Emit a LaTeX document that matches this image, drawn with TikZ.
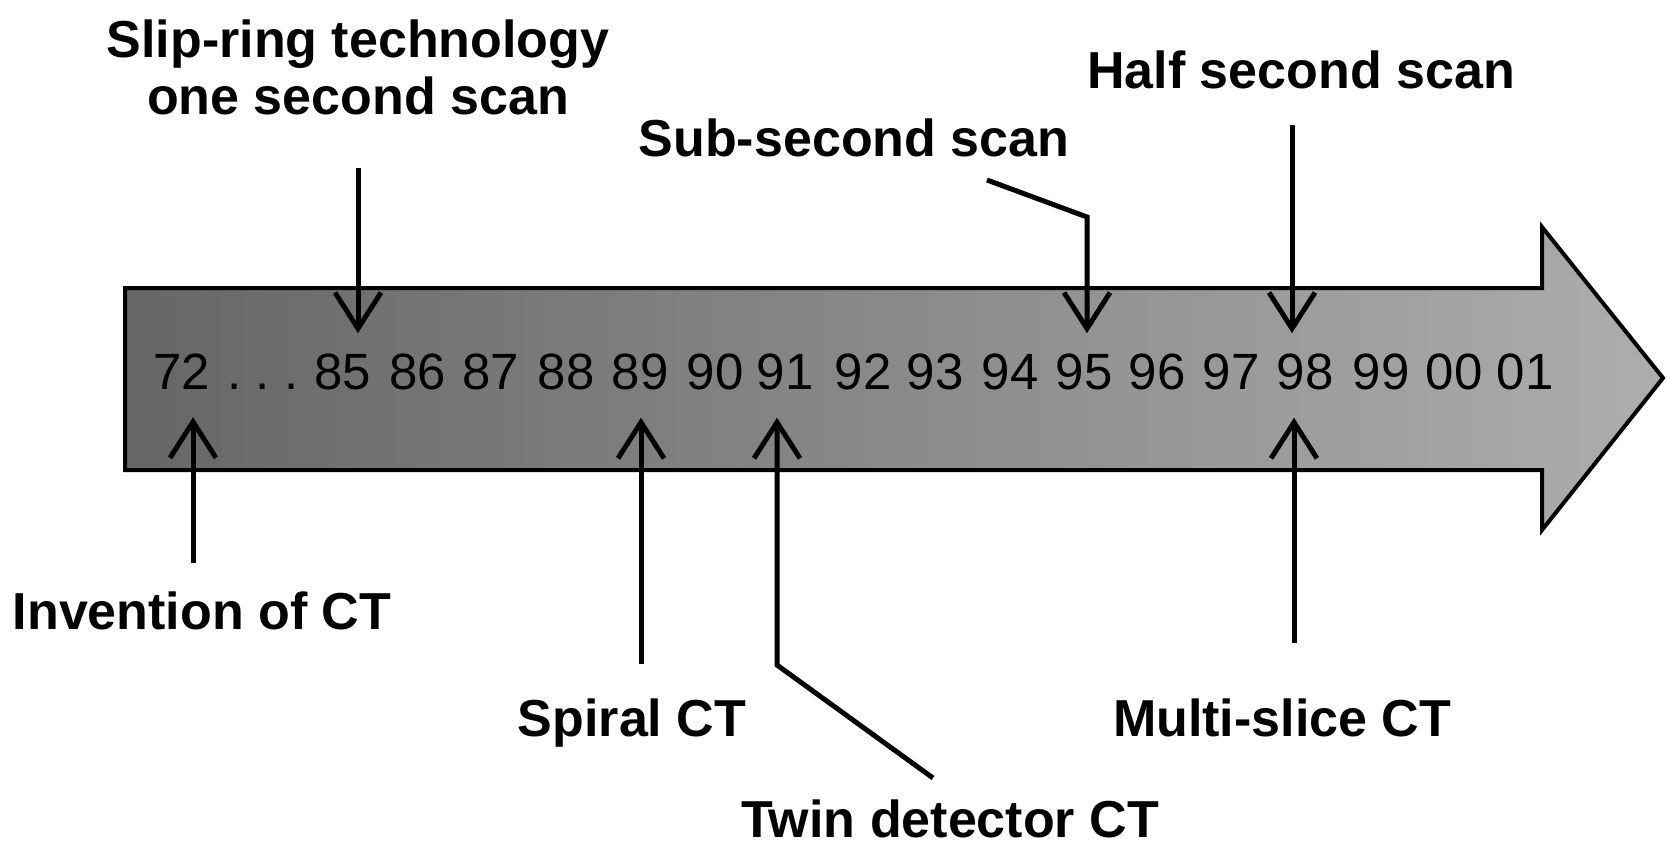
\documentclass[tikz,border=0pt]{standalone}
\usepackage{fontspec}
\setmainfont{Liberation Sans}
\usetikzlibrary{arrows.meta,calc}
\definecolor{bandL}{gray}{0.40}
\definecolor{bandR}{gray}{0.68}
\begin{document}
\begin{tikzpicture}[x=1pt,y=-1pt,
  lbl/.style={font=\fontsize{52}{57}\selectfont\bfseries, inner sep=0pt, anchor=base, align=center},
  yr/.style={font=\fontsize{51}{56}\selectfont, inner sep=0pt, anchor=base},
  ptr/.style={line width=5pt, -{Straight Barb[length=36pt,width=46pt]}, line join=miter},
  band/.style={line width=4pt, line join=miter, left color=bandL, right color=bandR},
]
\useasboundingbox (0,0) rectangle (1667,849);
\fill[white] (0,0) rectangle (1667,849);
% timeline arrow
\draw[band] (125,288) -- (1542,288) -- (1542,227) -- (1663,378) -- (1542,530) -- (1542,470) -- (125,470) -- cycle;
% years
\node[yr] (y72) at (182,389) {72};
\node[yr] (dots) at (263,389) {.~.~.};
\foreach \t/\x in {85/343,86/418,87/491,88/566,89/640,90/715,91/785,92/863,93/935,94/1010,95/1084,96/1157,97/1231,98/1305,99/1381,00/1454,01/1525}
  \node[yr] (y\t) at (\x,389) {\t};
% labels
\node[lbl] (slip) at (358,114) {Slip-ring technology\\one second scan};
\node[lbl] (sub) at (854,156) {Sub-second scan};
\node[lbl] (half) at (1301,88) {Half second scan};
\node[lbl] (inv) at (202,629) {Invention of CT};
\node[lbl] (spiral) at (632,736) {Spiral CT};
\node[lbl] (multi) at (1282,736) {Multi-slice CT};
\node[lbl] (twin) at (950,837) {Twin detector CT};
% connector ends
\coordinate (slipT) at (358,168);
\coordinate (subT) at (987,180);
\coordinate (subB) at (1087,217);
\coordinate (halfT) at (1292,125);
\coordinate (invT) at (193,563);
\coordinate (spiralT) at (641,664);
\coordinate (twinT) at (933,778);
\coordinate (twinB) at (777,665);
\coordinate (multiT) at (1294,643);
% connectors
\draw[ptr] (slipT) -- ([xshift=15pt,yshift=20pt]y85.north);
\draw[ptr] (subT) -- (subB) -- ([xshift=3pt,yshift=20pt]y95.north);
\draw[ptr] (halfT) -- ([xshift=-13pt,yshift=20pt]y98.north);
\draw[ptr] (invT) -- ([xshift=11pt,yshift=-28pt]y72.south);
\draw[ptr] (spiralT) -- ([xshift=1pt,yshift=-28pt]y89.south);
\draw[ptr] (twinT) -- (twinB) -- ([xshift=-8pt,yshift=-28pt]y91.south);
\draw[ptr] (multiT) -- ([xshift=-11pt,yshift=-28pt]y98.south);
\end{tikzpicture}
\end{document}
